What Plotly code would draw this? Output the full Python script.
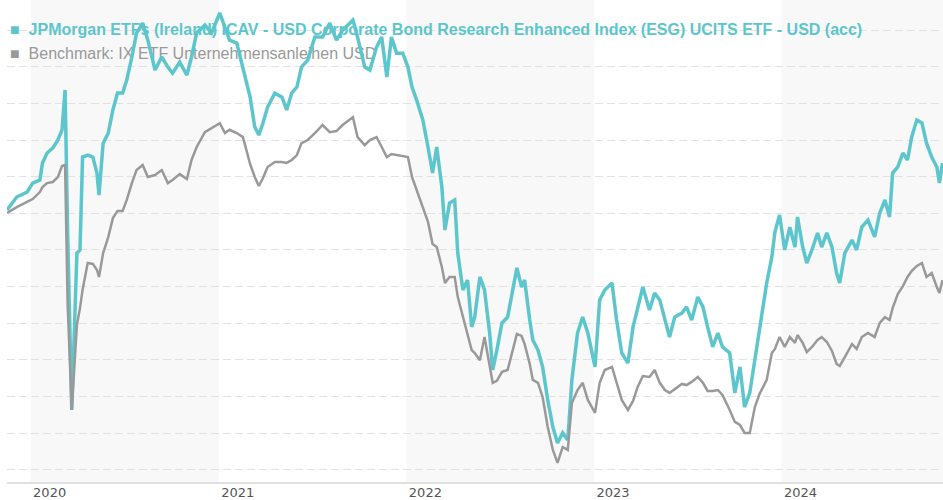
import plotly.graph_objects as go

# ---------------- data ----------------
dates = [
    "2019-11-16", "2019-12-05", "2019-12-25", "2020-01-05", "2020-01-19", "2020-01-24", "2020-02-02", "2020-02-13", "2020-02-23", "2020-03-02",
    "2020-03-08", "2020-03-13", "2020-03-21", "2020-03-31", "2020-04-06", "2020-04-11", "2020-04-21", "2020-05-01", "2020-05-09", "2020-05-13",
    "2020-05-21", "2020-05-31", "2020-06-09", "2020-06-18", "2020-06-28", "2020-07-06", "2020-07-16", "2020-07-25", "2020-08-06", "2020-08-16",
    "2020-08-30", "2020-09-12", "2020-09-24", "2020-10-03", "2020-10-17", "2020-10-31", "2020-11-09", "2020-11-19", "2020-12-05", "2020-12-18",
    "2021-01-03", "2021-01-13", "2021-01-22", "2021-02-05", "2021-02-17", "2021-03-03", "2021-03-12", "2021-03-20", "2021-03-28", "2021-04-06",
    "2021-04-20", "2021-05-04", "2021-05-13", "2021-05-23", "2021-06-02", "2021-06-11", "2021-06-23", "2021-07-07", "2021-07-22", "2021-08-05",
    "2021-08-18", "2021-08-30", "2021-09-19", "2021-09-28", "2021-10-12", "2021-10-22", "2021-11-04", "2021-11-14", "2021-11-24", "2021-12-03",
    "2021-12-13", "2021-12-25", "2022-01-04", "2022-01-12", "2022-01-21", "2022-02-02", "2022-02-12", "2022-02-21", "2022-03-01", "2022-03-11",
    "2022-03-17", "2022-03-26", "2022-04-05", "2022-04-11", "2022-04-21", "2022-04-30", "2022-05-08", "2022-05-14", "2022-05-24", "2022-06-02",
    "2022-06-12", "2022-06-18", "2022-06-26", "2022-07-06", "2022-07-17", "2022-07-27", "2022-08-04", "2022-08-13", "2022-08-19", "2022-08-29",
    "2022-09-04", "2022-09-14", "2022-09-23", "2022-10-03", "2022-10-13", "2022-10-22", "2022-11-01", "2022-11-11", "2022-11-19", "2022-11-30",
    "2022-12-10", "2022-12-20", "2023-01-03", "2023-01-12", "2023-01-22", "2023-02-05", "2023-02-14", "2023-02-24", "2023-03-08", "2023-03-18",
    "2023-03-27", "2023-04-06", "2023-04-19", "2023-04-29", "2023-05-09", "2023-05-19", "2023-05-28", "2023-06-07", "2023-06-21", "2023-06-30",
    "2023-07-10", "2023-07-22", "2023-08-01", "2023-08-10", "2023-08-20", "2023-08-30", "2023-09-08", "2023-09-22", "2023-10-02", "2023-10-12",
    "2023-10-21", "2023-10-31", "2023-11-10", "2023-11-19", "2023-12-03", "2023-12-13", "2023-12-19", "2023-12-28", "2024-01-07", "2024-01-17",
    "2024-01-27", "2024-02-01", "2024-02-11", "2024-02-19", "2024-02-29", "2024-03-11", "2024-03-19", "2024-03-29", "2024-04-08", "2024-04-17",
    "2024-04-23", "2024-05-03", "2024-05-17", "2024-05-26", "2024-06-05", "2024-06-17", "2024-06-30", "2024-07-10", "2024-07-20", "2024-07-29",
    "2024-08-04", "2024-08-14", "2024-08-24", "2024-09-02", "2024-09-10", "2024-09-20", "2024-09-30", "2024-10-09", "2024-10-19", "2024-10-29",
    "2024-11-03", "2024-11-09",
]

fund = [
    100.18, 100.89, 101.16, 101.65, 101.82, 102.74, 103.29, 103.56, 104.00, 104.54,
    106.73, 98.93, 89.27, 97.83, 98.00, 103.07, 103.18, 103.07, 102.20, 101.00,
    103.83, 104.38, 105.64, 106.56, 106.56, 107.27, 108.53, 109.84, 110.38, 109.45,
    107.82, 108.53, 107.98, 107.65, 108.25, 107.54, 108.53, 109.84, 110.27, 109.84,
    110.93, 110.16, 109.45, 109.29, 107.98, 106.34, 104.71, 104.27, 104.93, 105.80,
    106.56, 106.34, 105.64, 106.56, 106.89, 107.98, 108.36, 109.62, 109.62, 110.38,
    109.45, 110.00, 110.54, 109.62, 107.98, 107.82, 109.07, 109.62, 107.44, 109.62,
    108.74, 108.74, 107.98, 106.89, 106.18, 105.09, 103.62, 102.20, 103.62, 101.43,
    99.09, 100.56, 100.73, 97.83, 95.82, 96.36, 93.80, 94.34, 96.53, 95.82,
    93.47, 91.45, 92.54, 94.02, 94.34, 95.82, 97.02, 95.98, 96.36, 94.18,
    93.09, 92.54, 91.62, 89.82, 88.34, 87.47, 88.02, 87.63, 90.91, 93.47,
    94.34, 93.47, 91.62, 95.27, 95.82, 96.20, 94.18, 92.38, 91.83, 93.80,
    94.89, 95.98, 94.72, 95.65, 95.27, 94.18, 93.25, 94.34, 94.56, 94.89,
    94.18, 95.43, 94.89, 93.80, 92.71, 93.47, 92.71, 92.38, 90.20, 91.62,
    89.43, 90.20, 92.00, 93.80, 96.20, 97.62, 98.98, 99.91, 98.00, 99.25,
    98.16, 99.80, 98.16, 97.29, 98.00, 98.93, 98.16, 98.93, 98.16, 96.74,
    96.20, 97.83, 98.54, 98.00, 99.25, 99.63, 98.71, 100.02, 100.73, 99.80,
    102.20, 102.53, 103.29, 102.91, 104.16, 105.09, 104.93, 103.83, 103.07, 102.53,
    101.65, 102.74,
]

benchmark = [
    100.02, 100.34, 100.62, 100.78, 101.16, 101.43, 101.65, 101.71, 101.98, 102.58,
    102.64, 95.00, 89.27, 93.91, 94.83, 95.82, 97.29, 97.24, 96.91, 96.53,
    97.83, 98.70, 99.74, 100.13, 100.13, 100.73, 101.65, 102.36, 102.64, 101.98,
    102.09, 102.36, 101.65, 101.82, 102.14, 101.87, 102.91, 103.62, 104.43, 104.65,
    104.92, 104.38, 104.56, 104.38, 104.16, 102.69, 101.98, 101.49, 101.93, 102.53,
    102.80, 102.80, 102.75, 102.91, 103.18, 103.83, 104.00, 104.38, 104.82, 104.43,
    104.49, 104.82, 105.25, 104.16, 103.72, 104.00, 104.16, 103.62, 103.07, 103.24,
    103.18, 103.13, 103.07, 101.98, 101.27, 100.40, 99.53, 98.33, 98.16, 97.07,
    96.20, 96.53, 96.53, 95.43, 94.34, 93.25, 92.54, 92.38, 91.98, 93.25,
    91.62, 90.75, 90.86, 91.35, 91.45, 92.54, 93.42, 93.31, 92.87, 91.78,
    90.91, 90.75, 89.98, 88.34, 87.09, 86.38, 87.25, 87.09, 89.65, 90.36,
    90.75, 89.82, 89.11, 90.75, 91.45, 91.62, 90.75, 89.82, 89.27, 89.76,
    90.53, 91.12, 91.07, 91.45, 90.75, 90.36, 90.20, 90.42, 90.69, 90.63,
    90.80, 91.07, 90.75, 90.31, 90.31, 90.36, 90.09, 89.27, 88.62, 88.45,
    88.02, 88.02, 89.43, 90.14, 90.91, 92.38, 92.60, 93.25, 92.71, 93.25,
    92.93, 93.36, 92.93, 92.43, 92.71, 93.09, 93.25, 92.98, 92.49, 91.78,
    91.67, 92.16, 92.87, 92.60, 93.25, 93.47, 93.25, 94.02, 94.34, 94.18,
    94.83, 95.60, 96.03, 96.53, 96.85, 97.13, 97.29, 96.53, 96.74, 95.98,
    95.65, 96.36,
]

years = ["2020", "2021", "2022", "2023", "2024"]
shaded_years = ["2020", "2022", "2024"]

fund_name = ("JPMorgan ETFs (Ireland) ICAV - USD Corporate Bond Research "
             "Enhanced Index (ESG) UCITS ETF - USD (acc)")
bench_name = "Benchmark: IX ETF Unternehmensanleihen USD"

x_start, x_end = "2019-11-16", "2024-11-10"
y_range = [85.34, 111.64]

TEAL = "#5cc6cc"
GREY = "#999999"
MARK = "■\u00a0\u00a0"

fig = go.Figure()

# legend labels, drawn on a base layer so the lines pass over them
fig.add_trace(go.Scatter(
    x=[0.0032], y=[0.936], mode="text", text=[MARK + fund_name],
    textposition="middle right", cliponaxis=False, hoverinfo="skip", showlegend=False,
    textfont=dict(family="Liberation Sans, Arial, sans-serif", size=16, color=TEAL, weight="bold"),
    xaxis="x", yaxis="y"))
fig.add_trace(go.Scatter(
    x=[0.0032], y=[0.885], mode="text", text=[MARK + bench_name],
    textposition="middle right", cliponaxis=False, hoverinfo="skip", showlegend=False,
    textfont=dict(family="Liberation Sans, Arial, sans-serif", size=16, color=GREY),
    xaxis="x", yaxis="y"))

fig.add_trace(go.Scatter(
    x=dates, y=fund, mode="lines", name=fund_name, showlegend=False,
    line=dict(color=TEAL, width=3.5), xaxis="x2", yaxis="y2"))
fig.add_trace(go.Scatter(
    x=dates, y=benchmark, mode="lines", name=bench_name, showlegend=False,
    line=dict(color=GREY, width=2.5), xaxis="x2", yaxis="y2"))

shapes = []
for yr in shaded_years:
    x1 = f"{int(yr) + 1}-01-01"
    if x1 > x_end:
        x1 = x_end
    shapes.append(dict(type="rect", xref="x2", yref="paper", x0=f"{yr}-01-01", x1=x1,
                       y0=0, y1=1, fillcolor="#f8f8f8", line=dict(width=0), layer="below"))

fig.update_layout(
    width=943, height=500,
    margin=dict(l=7, r=0, t=0, b=18),
    paper_bgcolor="white", plot_bgcolor="white",
    showlegend=False,
    hovermode=False,
    shapes=shapes,
    xaxis=dict(range=[0, 1], visible=False, fixedrange=True),
    yaxis=dict(range=[0, 1], visible=False, fixedrange=True),
    xaxis2=dict(
        overlaying="x", anchor="y2", type="date", range=[x_start, x_end],
        tickvals=[f"{y}-01-01" for y in years], ticktext=years,
        ticklabelshift=19, ticklabelstandoff=-3, ticks="", showgrid=False, zeroline=False,
        showline=True, linecolor="#e0e0e0", linewidth=2,
        tickfont=dict(family="DejaVu Sans, Verdana, sans-serif", size=13, color="#555555"),
    ),
    yaxis2=dict(
        overlaying="y", anchor="x2", range=y_range, tick0=86, dtick=2,
        showgrid=True, gridcolor="#e2e2e2", gridwidth=1, griddash="8px,4px",
        showticklabels=False, zeroline=False, showline=False, ticks="",
    ),
)

fig.write_html("out.html", config={"displayModeBar": False},
               post_script="document.body.style.margin='0';")
